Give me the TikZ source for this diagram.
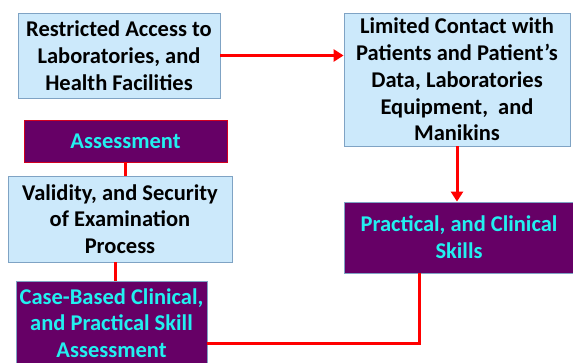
\documentclass[tikz,border=0pt]{standalone}
\usepackage{fontspec}
\setmainfont{Carlito}
\usepackage{tikz}
\usetikzlibrary{arrows.meta,positioning,calc}
\definecolor{boxblue}{HTML}{CCE9FB}
\definecolor{boxedge}{HTML}{7FA3C4}
\definecolor{boxpurple}{HTML}{660066}
\definecolor{textcyan}{HTML}{22F0F0}
\tikzstyle{bluebox} = [draw=boxedge, fill=boxblue, line width=0.8pt, align=center, inner sep=1pt,
	font=\fontsize{22.5}{26.8}\selectfont\bfseries, text=black]
\tikzstyle{purplebox} = [draw=boxedge, fill=boxpurple, line width=0.8pt, align=center, inner sep=1pt,
	font=\fontsize{22.5}{26.8}\selectfont\bfseries, text=textcyan]
\tikzstyle{redline} = [draw=red, line width=3pt]
\tikzstyle{redarrow} = [redline, -{Triangle[length=10pt,width=12pt]}]

\begin{document}
\begin{tikzpicture}[x=1pt,y=-1pt]
	\useasboundingbox (0,0) rectangle (573,362);

	% rechte Spalte
	\node[bluebox, minimum width=202, minimum height=85] (access) at (119,55.5)
		{Restricted Access to\\Laboratories, and\\Health Facilities};
	\node[bluebox, minimum width=226, minimum height=133] (contact) at (457,79.5)
		{Limited Contact with\\Patients and Patient's\\Data, Laboratories\\Equipment,\ \ and\\Manikins};
	\node[purplebox, minimum width=230, minimum height=71] (skills) at (459,237.5)
		{Practical, and Clinical\\Skills};

	% linke Spalte
	\node[purplebox, draw=red!70!boxpurple, minimum width=203, minimum height=42] (assess) at (125.5,141)
		{Assessment};
	\node[bluebox, minimum width=224, minimum height=86] (validity) at (120,219)
		{Validity, and Security\\of Examination\\Process};
	\node[purplebox, minimum width=191, minimum height=84] (casebox) at (111.5,323)
		{Case-Based Clinical,\\and Practical Skill\\Assessment};

	% Verbindungen
	\draw[redarrow] (access.east) -- (access.east -| contact.west);
	\draw[redarrow] (contact.south) -- (contact.south |- skills.north);
	\draw[redline] (assess.south) -- (assess.south |- validity.north);
	\draw[redline] ([xshift=3.5]casebox.north |- validity.south) -- ([xshift=3.5]casebox.north);
	\draw[redline] ([yshift=-20]casebox.east) -| ([xshift=-40]skills.south);
\end{tikzpicture}
\end{document}
